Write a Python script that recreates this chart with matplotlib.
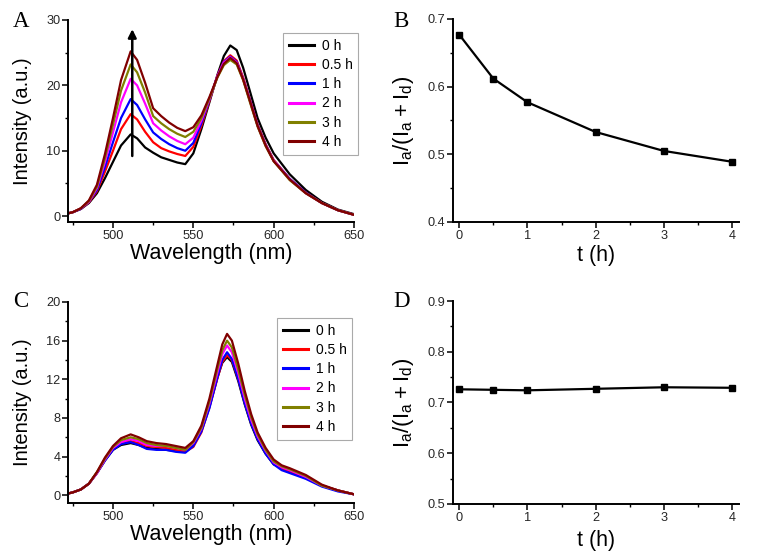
import matplotlib
matplotlib.use('Agg')
import matplotlib.pyplot as plt
from matplotlib.ticker import MultipleLocator

plt.rcParams['font.family'] = ['Liberation Sans', 'DejaVu Sans']
plt.rcParams['mathtext.default'] = 'regular'

# ---- data ----
labels = ['0 h', '0.5 h', '1 h', '2 h', '3 h', '4 h']
colors = ['#000000', '#FF0000', '#0000FF', '#FF00FF', '#808000', '#800000']

# Panel A: emission spectra (wavelength in nm, intensity in a.u.)
wl_a = [470, 475, 480, 485, 490, 495, 500, 505, 511, 515, 520, 525, 530, 535, 540, 545, 550,
        555, 560, 565, 569, 573, 577, 581, 585, 590, 595, 600, 610, 620, 630, 640, 650]
a_0h = [0.3, 0.6, 1.1, 2.0, 3.5, 5.8, 8.3, 10.8, 12.5, 11.9, 10.5, 9.7, 9.0, 8.6, 8.2, 7.95, 9.6,
        13.3, 17.4, 21.6, 24.5, 26.1, 25.4, 22.7, 19.3, 15.0, 12.0, 9.6, 6.4, 4.0, 2.2, 1.0, 0.3]
a_05h = [0.3, 0.6, 1.1, 2.1, 3.8, 6.8, 10.0, 13.3, 15.6, 14.8, 12.9, 11.3, 10.4, 9.9, 9.5, 9.2, 10.6,
         13.8, 17.6, 21.5, 23.7, 24.6, 23.8, 21.2, 18.0, 14.0, 11.0, 8.6, 5.7, 3.6, 2.0, 0.9, 0.2]
a_1h = [0.3, 0.6, 1.1, 2.2, 4.0, 7.5, 11.3, 15.0, 17.9, 17.0, 14.8, 12.8, 11.8, 11.0, 10.4, 10.0, 11.2,
        14.2, 17.8, 21.4, 23.6, 24.4, 23.6, 21.0, 17.9, 13.9, 10.9, 8.5, 5.7, 3.6, 2.0, 0.9, 0.2]
a_2h = [0.3, 0.6, 1.2, 2.2, 4.3, 8.3, 12.8, 17.4, 21.0, 20.0, 17.2, 14.2, 13.1, 12.2, 11.5, 11.0, 12.0,
        14.6, 17.9, 21.4, 23.5, 24.3, 23.5, 21.0, 17.8, 13.8, 10.8, 8.5, 5.6, 3.5, 2.0, 0.9, 0.2]
a_3h = [0.3, 0.6, 1.2, 2.3, 4.5, 8.9, 14.0, 19.2, 23.2, 22.0, 18.9, 15.3, 14.2, 13.3, 12.6, 12.1, 12.9,
        15.0, 18.0, 21.2, 23.1, 23.9, 23.2, 20.8, 17.6, 13.7, 10.7, 8.4, 5.5, 3.5, 2.0, 0.9, 0.2]
a_4h = [0.3, 0.6, 1.2, 2.4, 4.8, 9.5, 15.0, 20.8, 25.2, 23.9, 20.4, 16.5, 15.3, 14.3, 13.5, 13.0, 13.6,
        15.4, 18.2, 21.3, 23.3, 24.2, 23.4, 20.9, 17.8, 13.8, 10.8, 8.4, 5.6, 3.5, 2.0, 0.9, 0.2]

# Panel C: emission spectra (control)
wl_c = [470, 475, 480, 485, 490, 495, 500, 505, 511, 516, 521, 527, 533, 539, 545, 550, 555,
        560, 565, 568, 571, 574, 578, 582, 586, 590, 595, 600, 605, 610, 620, 630, 640, 650]
c_0h = [0.1, 0.3, 0.6, 1.2, 2.3, 3.6, 4.7, 5.2, 5.4, 5.2, 4.9, 4.8, 4.7, 4.6, 4.5, 5.2, 6.7,
        9.2, 12.2, 13.7, 14.3, 13.8, 11.8, 9.4, 7.3, 5.7, 4.3, 3.2, 2.8, 2.5, 1.9, 1.0, 0.5, 0.1]
c_05h = [0.1, 0.3, 0.6, 1.2, 2.3, 3.7, 4.8, 5.4, 5.6, 5.4, 5.1, 5.0, 4.9, 4.7, 4.5, 5.0, 6.5,
         9.1, 12.1, 13.8, 14.5, 14.0, 12.0, 9.6, 7.5, 5.9, 4.4, 3.3, 2.8, 2.5, 1.8, 1.0, 0.5, 0.1]
c_1h = [0.1, 0.3, 0.6, 1.2, 2.3, 3.6, 4.7, 5.3, 5.5, 5.2, 4.8, 4.7, 4.7, 4.5, 4.4, 5.1, 6.6,
        9.0, 12.2, 14.0, 14.8, 14.1, 12.0, 9.5, 7.4, 5.8, 4.3, 3.2, 2.6, 2.3, 1.7, 0.9, 0.4, 0.1]
c_2h = [0.1, 0.3, 0.6, 1.2, 2.3, 3.7, 4.9, 5.5, 5.8, 5.6, 5.2, 5.1, 5.1, 4.9, 4.7, 5.4, 6.9,
        9.5, 12.7, 14.6, 15.5, 14.8, 12.6, 10.0, 7.8, 6.1, 4.6, 3.4, 2.9, 2.6, 1.9, 1.0, 0.5, 0.1]
c_3h = [0.1, 0.3, 0.6, 1.2, 2.4, 3.8, 5.0, 5.7, 6.0, 5.8, 5.4, 5.2, 5.1, 4.9, 4.7, 5.5, 7.0,
        9.7, 13.1, 15.0, 16.0, 15.3, 13.0, 10.4, 8.1, 6.3, 4.7, 3.5, 3.0, 2.7, 2.0, 1.0, 0.5, 0.1]
c_4h = [0.1, 0.3, 0.6, 1.2, 2.4, 3.9, 5.1, 5.9, 6.3, 6.0, 5.6, 5.4, 5.3, 5.1, 4.9, 5.6, 7.2,
        10.0, 13.5, 15.6, 16.7, 16.0, 13.6, 10.8, 8.4, 6.5, 4.9, 3.7, 3.1, 2.8, 2.1, 1.1, 0.5, 0.1]

# Panels B and D: ratio Ia/(Ia+Id) vs time
t_hours = [0, 0.5, 1, 2, 3, 4]
ratio_b = [0.677, 0.612, 0.577, 0.533, 0.505, 0.489]
ratio_d = [0.726, 0.725, 0.724, 0.727, 0.730, 0.729]

spectra_a = [a_0h, a_05h, a_1h, a_2h, a_3h, a_4h]
spectra_c = [c_0h, c_05h, c_1h, c_2h, c_3h, c_4h]

RATIO_LABEL = r'$I_a/(I_a+I_d)$'
W, H = 758, 560


def style_axes(ax):
    for s in ('top', 'right'):
        ax.spines[s].set_visible(False)
    for s in ('left', 'bottom'):
        ax.spines[s].set_linewidth(1.4)
    ax.tick_params(which='major', direction='out', length=4, width=1.1,
                   labelsize=9.2, pad=1.5, labelcolor='#262626')
    ax.tick_params(which='minor', direction='out', length=2.5, width=1.0)


def spectrum_panel(ax, wl, spectra, ylim, ymajor, leg_xy):
    for y, c, lab in zip(spectra, colors, labels):
        ax.plot(wl, y, color=c, lw=1.6, label=lab)
    ax.set_xlim(472, 650)
    ax.set_ylim(*ylim)
    ax.xaxis.set_major_locator(MultipleLocator(50))
    ax.xaxis.set_minor_locator(MultipleLocator(25))
    ax.yaxis.set_major_locator(MultipleLocator(ymajor))
    ax.yaxis.set_minor_locator(MultipleLocator(ymajor / 2))
    style_axes(ax)
    ax.set_xlabel('Wavelength (nm)', fontsize=15.5)
    ax.set_ylabel('Intensity (a.u.)', fontsize=14.5)
    ax.yaxis.set_label_coords(-0.125, 0.5)
    ax.xaxis.set_label_coords(0.5, -0.105)
    leg = ax.legend(loc='upper left', bbox_to_anchor=(leg_xy[0] / W, 1 - leg_xy[1] / H),
                    bbox_transform=ax.figure.transFigure, borderaxespad=0,
                    fontsize=10, handlelength=1.8, handletextpad=0.6,
                    labelspacing=0.38, borderpad=0.4, fancybox=False, framealpha=1)
    leg.get_frame().set_edgecolor('#aaaaaa')
    leg.get_frame().set_linewidth(0.8)
    for h in leg.get_lines():
        h.set_linewidth(2.2)


def ratio_panel(ax, t, r, ylim):
    ax.plot(t, r, color='black', lw=1.6, marker='s', markersize=4.5)
    ax.set_xlim(-0.09, 4.1)
    ax.set_ylim(*ylim)
    ax.xaxis.set_major_locator(MultipleLocator(1))
    ax.xaxis.set_minor_locator(MultipleLocator(0.5))
    ax.yaxis.set_major_locator(MultipleLocator(0.1))
    ax.yaxis.set_minor_locator(MultipleLocator(0.05))
    style_axes(ax)
    ax.set_xlabel('t (h)', fontsize=15.5)
    ax.set_ylabel(RATIO_LABEL, fontsize=16)
    ax.yaxis.set_label_coords(-0.13, 0.5)


fig = plt.figure(figsize=(W / 100, H / 100), dpi=100)
ax_a = fig.add_axes([68 / W, 1 - 222 / H, 286 / W, 202 / H])
ax_b = fig.add_axes([453 / W, 1 - 222 / H, 286 / W, 203 / H])
ax_c = fig.add_axes([68 / W, 1 - 503 / H, 286 / W, 201 / H])
ax_d = fig.add_axes([453 / W, 1 - 504 / H, 286 / W, 203 / H])

spectrum_panel(ax_a, wl_a, spectra_a, (-0.9, 30), 10, (283, 33))
ax_a.annotate('', xy=(512, 28.6), xytext=(512, 9.2),
              arrowprops=dict(arrowstyle='-|>', color='black', lw=1.8,
                              mutation_scale=12, shrinkA=0, shrinkB=0))

spectrum_panel(ax_c, wl_c, spectra_c, (-0.8, 20), 4, (277, 318))

ratio_panel(ax_b, t_hours, ratio_b, (0.4, 0.7))
ax_b.xaxis.set_label_coords(0.5, -0.115)
ratio_panel(ax_d, t_hours, ratio_d, (0.5, 0.9))
ax_d.xaxis.set_label_coords(0.5, -0.13)

for letter, x, y in [('A', 13, 27), ('B', 393, 27), ('C', 13, 307), ('D', 393, 307)]:
    fig.text(x / W, 1 - y / H, letter, fontsize=16.5,
             family=['Liberation Serif', 'DejaVu Serif'], ha='left', va='baseline')

fig.savefig('out.png', dpi=100)
